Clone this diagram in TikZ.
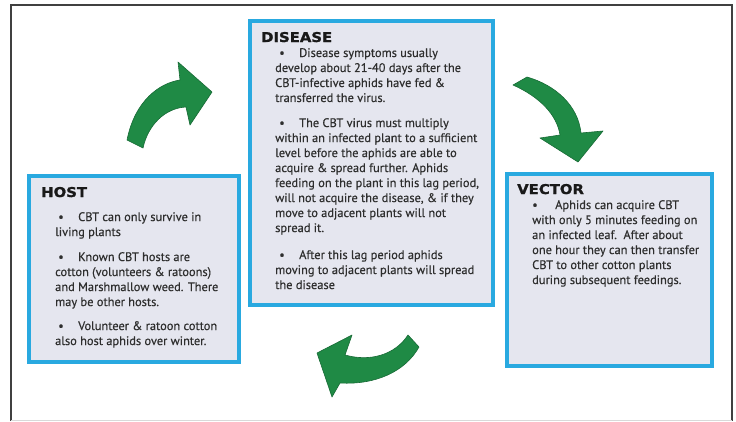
\documentclass[tikz,border=0pt]{standalone}
\usepackage{fontspec}
\setmainfont{PT Sans}
\newfontfamily\bodyfont[FakeBold=0.35]{PT Sans}
\newfontfamily\titlefont[BoldFeatures={FakeBold=1.2}]{DejaVu Sans}
\definecolor{boxblue}{HTML}{29A9E0}
\definecolor{boxfill}{HTML}{E5E6EF}
\definecolor{arrowgreen}{HTML}{1F8A45}
\definecolor{arrowedge}{HTML}{186A36}
\definecolor{textgray}{HTML}{2E2E2E}
\newcommand{\bul}[2]{\makebox[#2pt][l]{\hspace{#1pt}\textbullet}}
\begin{document}
\begin{tikzpicture}[x=1pt,y=-1pt,
  panel/.style={draw=boxblue,line width=3.5pt,fill=boxfill},
  ttl/.style={anchor=base west,inner sep=0pt,font=\titlefont\bfseries\fontsize{13.5}{15}\selectfont,text=black!90},
  para/.style={anchor=north west,inner sep=0pt,align=left,text=textgray,font=\bodyfont\fontsize{12.4}{15}\selectfont},
  bigarrow/.style={fill=arrowgreen,draw=arrowedge,line width=0.6pt,line join=round}]
\useasboundingbox (0,0) rectangle (736,421);
% outer frame
\draw[draw=black!75,line width=1.5pt] (11,421) -- (11,5) -- (732,5) -- (732,421);
\draw[draw=black!15,line width=1pt] (11,420) -- (732,420);
% panels
\draw[panel] (250,21) rectangle (493,305);
\draw[panel] (29,176) rectangle (239,362);
\draw[panel] (507,174) rectangle (712,366);
% DISEASE
\node[ttl] (dt) at (261,42) {\scalebox{1.1}[1]{DISEASE}};
\node[para] (d1) at (275,48) {\bul{4}{24}Disease symptoms usually\\develop about 21-40 days after the\\CBT-infective aphids have fed \&\\transferred the virus.};
\node[para] (d2) at (275,118) {\bul{4}{24}The CBT virus must multiply\\within an infected plant to a sufficient\\level before the aphids are able to\\acquire \& spread further. Aphids\\feeding on the plant in this lag period,\\will not acquire the disease, \& if they\\move to adjacent plants will not\\spread it.};
\node[para] (d3) at (275,250) {\bul{4}{24}After this lag period aphids\\moving to adjacent plants will spread\\the disease};
% HOST
\node[ttl] (ht) at (41,197) {\scalebox{1.1}[1]{HOST}};
\node[para] (h1) at (55,212) {\bul{3}{23}CBT can only survive in\\living plants};
\node[para] (h2) at (55,252) {\bul{3}{23}Known CBT hosts are\\cotton (volunteers \& ratoons)\\and Marshmallow weed. There\\may be other hosts.};
\node[para] (h3) at (55,321) {\bul{3}{23}Volunteer \& ratoon cotton\\also host aphids over winter.};
% VECTOR
\node[ttl] (vt) at (517,194) {\scalebox{1.1}[1]{VECTOR}};
\node[para] (v1) at (532,200) {\bul{0}{23}Aphids can acquire CBT\\with only 5 minutes feeding on\\an infected leaf.\ \ After about\\one hour they can then transfer\\CBT to other cotton plants\\during subsequent feedings.};
% arrows
\path[bigarrow] (127,140) .. controls (135,100) and (160,83) .. (180,80)
  -- (178,62) -- (212,92) -- (190,125) -- (186,107)
  .. controls (165,108) and (148,125) .. (143,148) -- cycle;
\path[bigarrow] (513,85) -- (527,77) .. controls (555,85) and (578,105) .. (581,133)
  -- (603,131) -- (578,162) -- (540,138) -- (560,135)
  .. controls (557,115) and (540,97) .. (513,85) -- cycle;
\path[bigarrow] (408,335) -- (419,347) .. controls (405,372) and (375,385) .. (340,383)
  -- (332,397) -- (317,353) -- (352,335) -- (345,355)
  .. controls (370,362) and (395,355) .. (408,335) -- cycle;
\end{tikzpicture}
\end{document}
